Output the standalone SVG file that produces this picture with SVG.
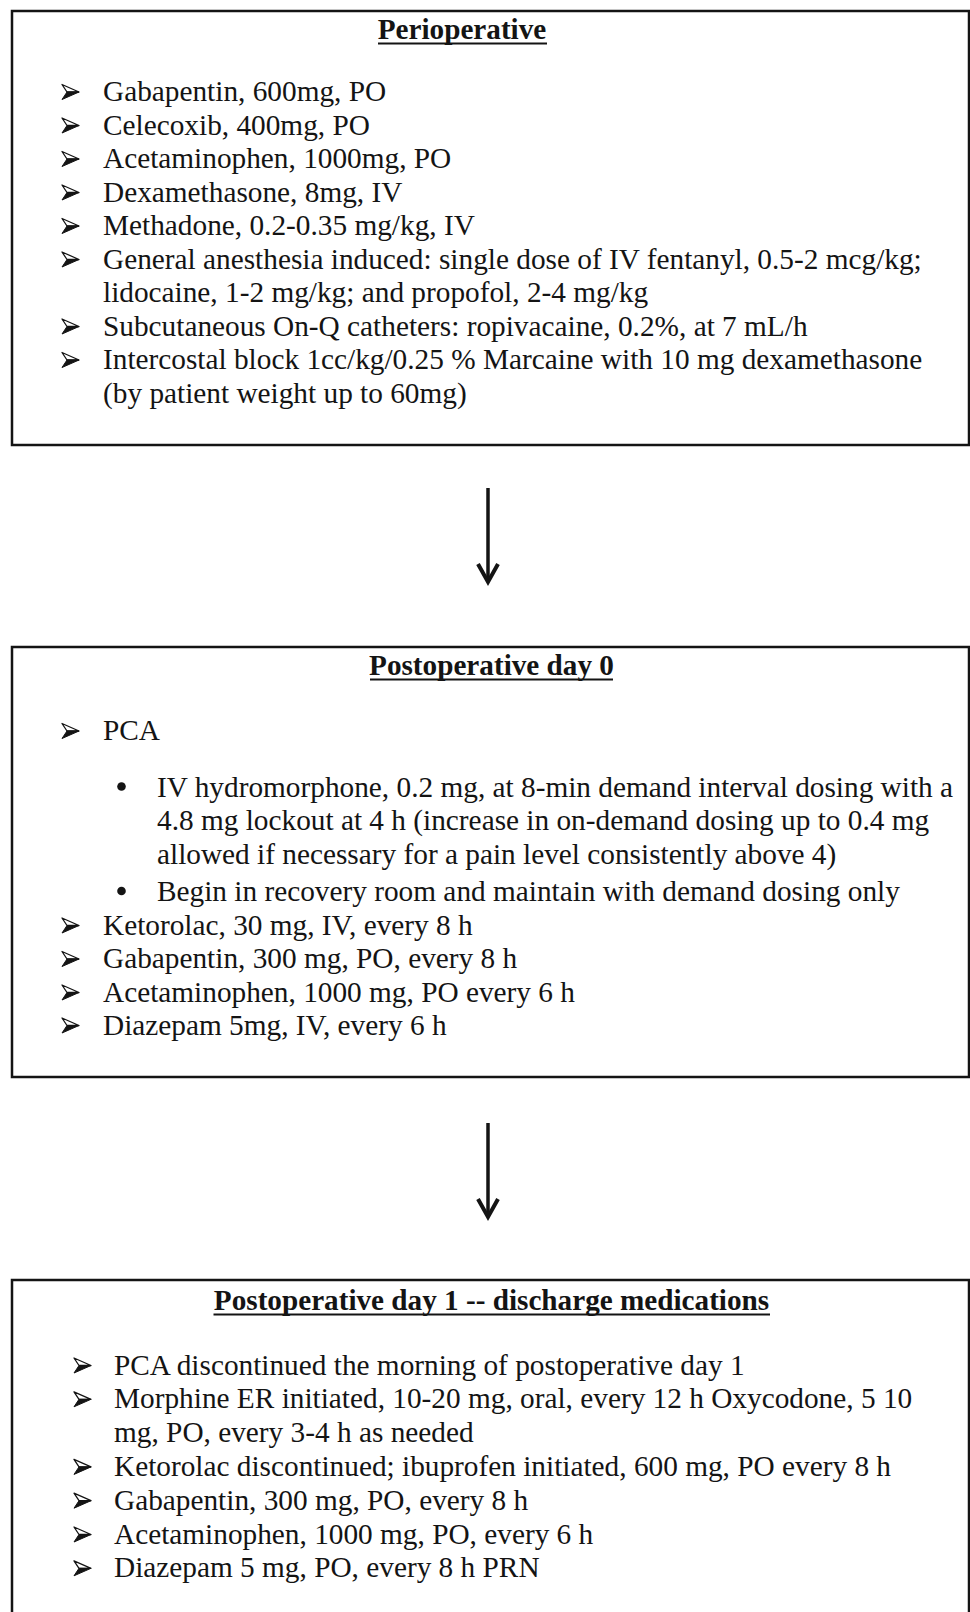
<svg xmlns="http://www.w3.org/2000/svg" width="970" height="1612" viewBox="0 0 970 1612">
<style>
.box{fill:#fff;stroke:#141414;stroke-width:2.5}
.t{font-family:"Liberation Serif","Times New Roman",serif;font-size:29.3px;fill:#141414}
.h{font-family:"Liberation Serif","Times New Roman",serif;font-size:29.2px;font-weight:bold;fill:#141414;text-anchor:middle}
.u{stroke:#141414;stroke-width:2}
.dot{fill:#141414}
.conn{stroke:#141414;stroke-width:3.5;fill:none}
</style>
<defs>
<g id="arr">
<path d="M0,-7.5 L17,0 L5,0 Z" fill="#fff" stroke="#141414" stroke-width="1.3" stroke-linejoin="round"/>
<path d="M5,0 L17,0 L0,7.5 Z" fill="#141414" stroke="#141414" stroke-width="1" stroke-linejoin="round"/>
</g>
<marker id="ah" markerUnits="userSpaceOnUse" markerWidth="30" markerHeight="30" refX="0" refY="0" viewBox="-26 -15 30 30" orient="auto" overflow="visible">
<path d="M-18,-10 L0,0 L-18,10" fill="none" stroke="#141414" stroke-width="4" stroke-linejoin="miter"/>
</marker>
</defs>
<rect width="970" height="1612" fill="#fff"/>

<g id="perioperative">
<rect class="box" x="12" y="11" width="957" height="434"/>
<text class="h" x="462" y="39">Perioperative</text>
<line class="u" x1="378" y1="43.5" x2="547" y2="43.5"/>
<use href="#arr" x="62" y="92"/><text class="t" x="103" y="101">Gabapentin, 600mg, PO</text>
<use href="#arr" x="62" y="125.5"/><text class="t" x="103" y="134.5">Celecoxib, 400mg, PO</text>
<use href="#arr" x="62" y="159"/><text class="t" x="103" y="168">Acetaminophen, 1000mg, PO</text>
<use href="#arr" x="62" y="192.5"/><text class="t" x="103" y="201.5">Dexamethasone, 8mg, IV</text>
<use href="#arr" x="62" y="226"/><text class="t" x="103" y="235">Methadone, 0.2-0.35 mg/kg, IV</text>
<use href="#arr" x="62" y="259.5"/><text class="t" x="103" y="268.5">General anesthesia induced: single dose of IV fentanyl, 0.5-2 mcg/kg;</text>
<text class="t" x="103" y="302">lidocaine, 1-2 mg/kg; and propofol, 2-4 mg/kg</text>
<use href="#arr" x="62" y="326.5"/><text class="t" x="103" y="335.5">Subcutaneous On-Q catheters: ropivacaine, 0.2%, at 7 mL/h</text>
<use href="#arr" x="62" y="360"/><text class="t" x="103" y="369">Intercostal block 1cc/kg/0.25 % Marcaine with 10 mg dexamethasone</text>
<text class="t" x="103" y="402.5">(by patient weight up to 60mg)</text>
</g>

<g id="postop-day0">
<rect class="box" x="12" y="647" width="957" height="430"/>
<text class="h" x="491.5" y="675">Postoperative day 0</text>
<line class="u" x1="370" y1="679.5" x2="613" y2="679.5"/>
<use href="#arr" x="62" y="731"/><text class="t" x="103" y="740">PCA</text>
<circle class="dot" cx="121.5" cy="786.5" r="4.3"/><text class="t" x="157" y="796.5">IV hydromorphone, 0.2 mg, at 8-min demand interval dosing with a</text>
<text class="t" x="157" y="830">4.8 mg lockout at 4 h (increase in on-demand dosing up to 0.4 mg</text>
<text class="t" x="157" y="864">allowed if necessary for a pain level consistently above 4)</text>
<circle class="dot" cx="121.5" cy="891" r="4.3"/><text class="t" x="157" y="901">Begin in recovery room and maintain with demand dosing only</text>
<use href="#arr" x="62" y="925.5"/><text class="t" x="103" y="934.5">Ketorolac, 30 mg, IV, every 8 h</text>
<use href="#arr" x="62" y="959"/><text class="t" x="103" y="968">Gabapentin, 300 mg, PO, every 8 h</text>
<use href="#arr" x="62" y="992.5"/><text class="t" x="103" y="1001.5">Acetaminophen, 1000 mg, PO every 6 h</text>
<use href="#arr" x="62" y="1025.5"/><text class="t" x="103" y="1034.5">Diazepam 5mg, IV, every 6 h</text>
</g>

<g id="postop-day1">
<rect class="box" x="12" y="1280" width="957" height="360"/>
<text class="h" x="491.5" y="1310">Postoperative day 1 -- discharge medications</text>
<line class="u" x1="213.5" y1="1314.5" x2="770" y2="1314.5"/>
<use href="#arr" x="74" y="1365.5"/><text class="t" x="114" y="1374.5">PCA discontinued the morning of postoperative day 1</text>
<use href="#arr" x="74" y="1399.3"/><text class="t" x="114" y="1408.3">Morphine ER initiated, 10-20 mg, oral, every 12 h Oxycodone, 5 10</text>
<text class="t" x="114" y="1442.1">mg, PO, every 3-4 h as needed</text>
<use href="#arr" x="74" y="1466.9"/><text class="t" x="114" y="1475.9">Ketorolac discontinued; ibuprofen initiated, 600 mg, PO every 8 h</text>
<use href="#arr" x="74" y="1500.7"/><text class="t" x="114" y="1509.7">Gabapentin, 300 mg, PO, every 8 h</text>
<use href="#arr" x="74" y="1534.5"/><text class="t" x="114" y="1543.5">Acetaminophen, 1000 mg, PO, every 6 h</text>
<use href="#arr" x="74" y="1568.3"/><text class="t" x="114" y="1577.3">Diazepam 5 mg, PO, every 8 h PRN</text>
</g>

<g id="connectors">
<path class="conn" d="M488,488 L488,582" marker-end="url(#ah)"/>
<path class="conn" d="M488,1123 L488,1217" marker-end="url(#ah)"/>
</g>
</svg>
